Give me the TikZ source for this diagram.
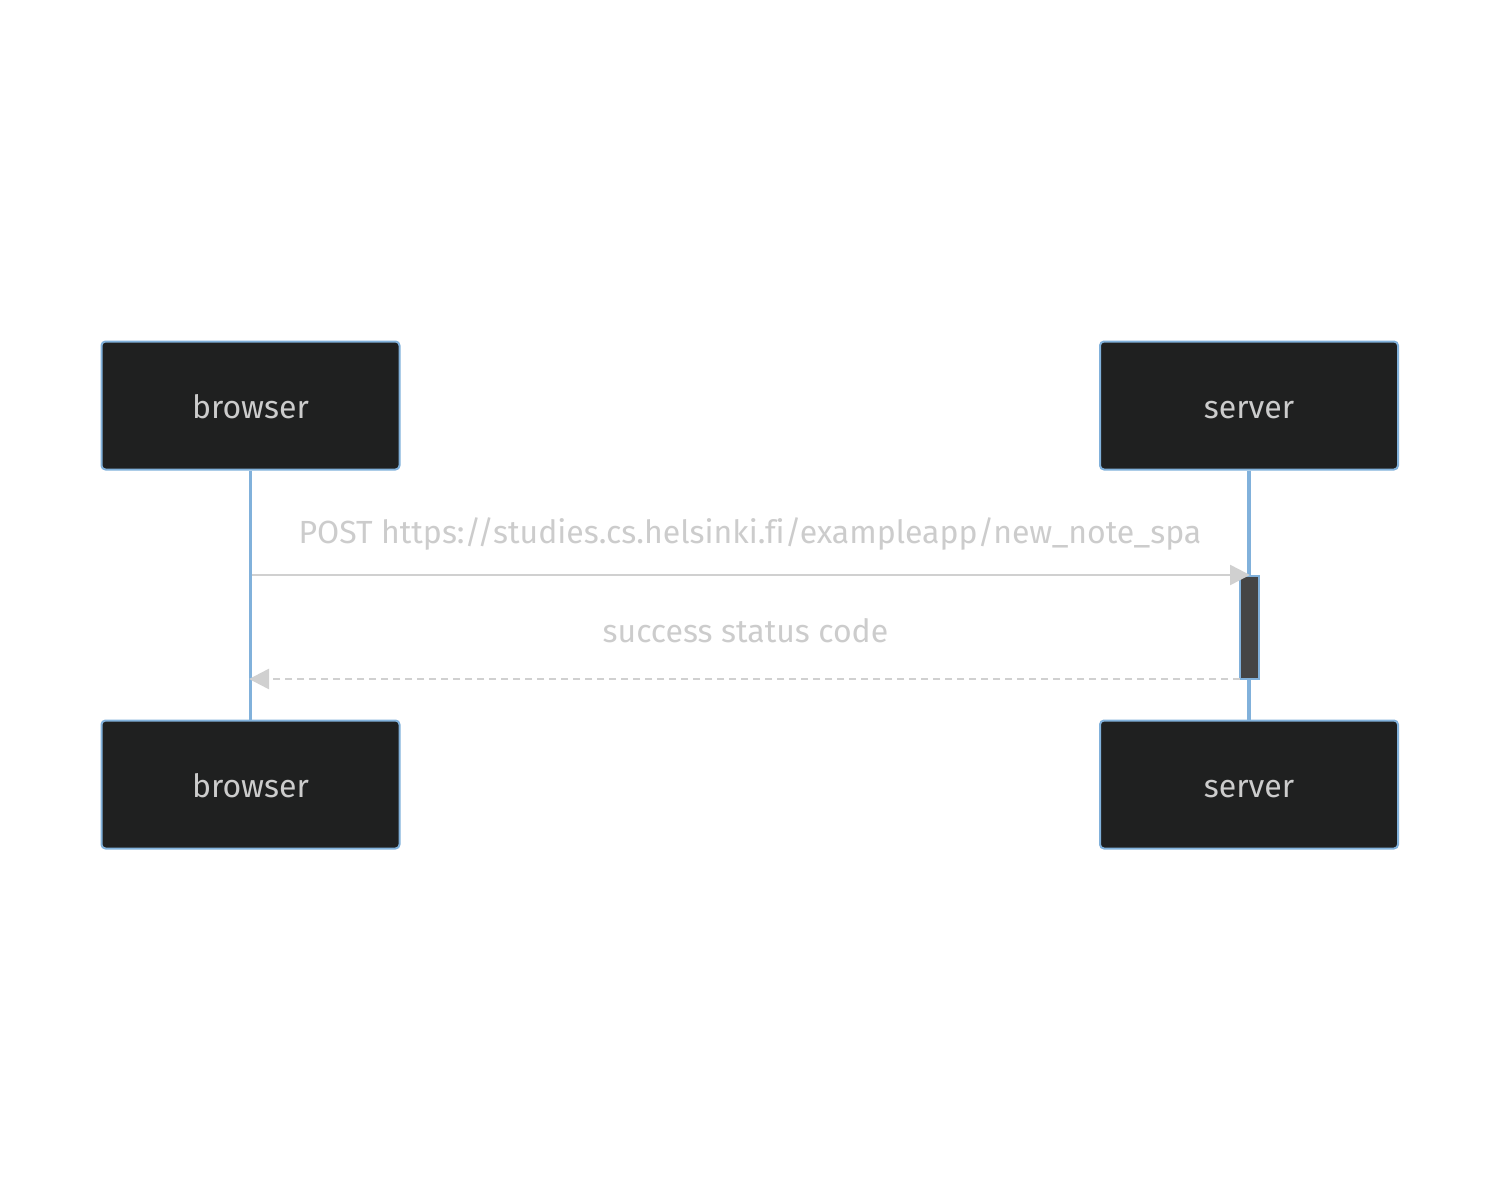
\documentclass[tikz,border=0pt]{standalone}
\usepackage{fontspec}
\setmainfont[Ligatures=NoCommon]{Fira Sans}
\usetikzlibrary{arrows.meta}
\definecolor{boxfill}{HTML}{1F2020}
\definecolor{boxline}{HTML}{81B1DB}
\definecolor{msgtext}{HTML}{CCCCCC}
\definecolor{msgline}{HTML}{D0D0D0}
\definecolor{actfill}{HTML}{454545}
\begin{document}
\begin{tikzpicture}[x=1pt,y=-1pt,
  actor/.style={draw=boxline,line width=2pt,fill=boxfill,rounded corners=4pt,
    minimum width=298pt,minimum height=128pt,inner sep=0pt},
  actortext/.style={text=msgtext,font=\fontsize{32}{38}\selectfont,inner sep=0pt,anchor=base},
  life/.style={draw=boxline,line width=3.5pt},
  msg/.style={draw=msgline,line width=2.5pt,-{Triangle[length=20pt,width=20pt]}},
  msglabel/.style={text=msgtext,font=\fontsize{32}{38}\selectfont,inner sep=0pt,anchor=base}]
\useasboundingbox (0,0) rectangle (1500,1193);
\fill[white] (0,0) rectangle (1500,1193);
\node[actor] (bt) at (250.5,405.5) {};
\node[actor] (st) at (1249,405.5) {};
\node[actor] (bb) at (250.5,784.5) {};
\node[actor] (sb) at (1249,784.5) {};
\node[actortext] (btt) at (250.5,418) {browser};
\node[actortext] (stt) at (1249,418) {server};
\node[actortext] (bbt) at (250.5,797) {browser};
\node[actortext] (sbt) at (1249,797) {server};
\draw[life] (bt.south) -- (bb.north);
\draw[life] (st.south) -- (sb.north);
\node[draw=boxline,line width=2pt,fill=actfill,minimum width=19pt,minimum height=103pt,inner sep=0pt] (act) at (1249.5,627.5) {};
\coordinate (m1s) at (252,575);
\coordinate (m1e) at (1250,575);
\draw[msg] (m1s) -- (m1e);
\coordinate (m2s) at (1240,679);
\coordinate (m2e) at (249,679);
\draw[msg,dash pattern=on 7pt off 5pt] (m2s) -- (m2e);
\node[msglabel] (l1) at (750,543) {POST https://studies.cs.helsinki.fi/exampleapp/new\_note\_spa};
\node[msglabel] (l2) at (745.5,642) {success status code};
\end{tikzpicture}
\end{document}
